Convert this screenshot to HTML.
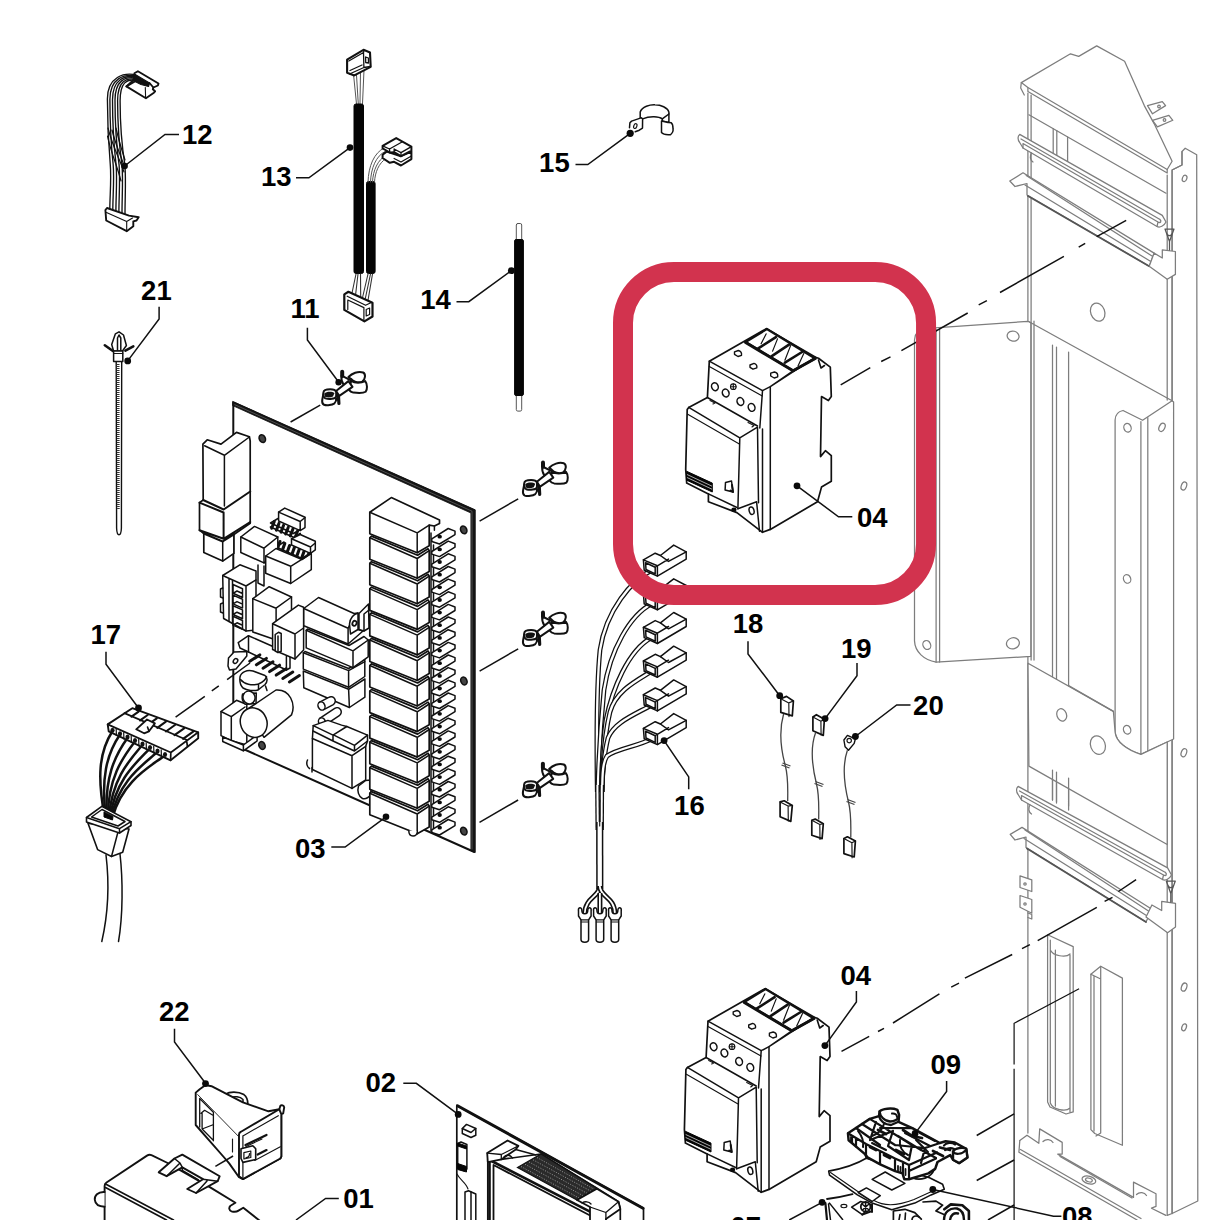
<!DOCTYPE html>
<html><head><meta charset="utf-8"><title>Parts diagram</title>
<style>
html,body{margin:0;padding:0;background:#fff;}
body{width:1220px;height:1220px;overflow:hidden;}
svg{display:block;}
.l{font-family:"Liberation Sans",sans-serif;font-weight:bold;font-size:27.5px;fill:#000;}
.s{fill:none;stroke:#111;stroke-width:1.5;stroke-linejoin:round;stroke-linecap:round;}
.t{fill:none;stroke:#151515;stroke-width:1.15;stroke-linejoin:round;stroke-linecap:round;}
.w{fill:#fff;stroke:#111;stroke-width:1.5;stroke-linejoin:round;stroke-linecap:round;}
.g{fill:none;stroke:#7d7d7d;stroke-width:1.25;stroke-linejoin:round;stroke-linecap:round;}
.gw{fill:#fff;stroke:#7d7d7d;stroke-width:1.25;stroke-linejoin:round;stroke-linecap:round;}
.ld{fill:none;stroke:#111;stroke-width:1.5;}
.d{fill:#0a0a0a;}
.k{fill:#050505;stroke:#050505;stroke-width:1;}
</style></head><body>
<svg width="1220" height="1220" viewBox="0 0 1220 1220">
<rect width="1220" height="1220" fill="#fff"/>
<!-- gray frame -->
<g id="frame" class="g">
<!-- top plate -->
<path class="gw" d="M1021.3,82.6 L1070.5,53.8 L1078.7,56.4 L1096.7,45.9 L1124.6,61.3 L1144.3,105.6 L1154.1,123.6 L1172.1,161.3 L1167.2,169.5 L1027.9,87.5 Z"/>
<path d="M1027.9,87.5 L1027.9,91.500 L1167.2,173 L1167.2,169.5 M1021.3,82.6 L1020.700,88 L1024.300,95 M1028.900,114.800 L1166,193.200"/>
<path class="gw" d="M1147.5,105.6 L1162.3,101.6 L1165.6,105.6 L1152.5,113.8 Z M1152.5,120.3 L1168.9,115.4 L1172.8,120.3 L1157.4,126.9 Z"/>
<circle cx="1159" cy="106.5" r="1.3"/><circle cx="1164.5" cy="120" r="1.3"/>
<!-- right channel -->
<path class="gw" d="M1182,151.5 L1185.2,148.2 L1196.7,154.8 L1197.800,1201 L1172.100,1213.500 L1172.100,170 L1182,165 Z"/>
<path d="M1182,151.5 L1182,165 L1172.1,170 M1167.2,175 L1167.2,400 M1172.1,170 L1172.1,1213.500 M1167.2,420 L1167.2,1215.400 L1172.100,1213.500"/>
<g>
<ellipse cx="1184.6" cy="178.4" rx="2.2" ry="3.3" transform="rotate(20 1184.6 178.4)"/>
<ellipse cx="1183.9" cy="486" rx="2.6" ry="4.2" transform="rotate(20 1183.9 486)"/>
<ellipse cx="1183.9" cy="752.7" rx="2.6" ry="4.2" transform="rotate(20 1183.9 752.7)"/>
<ellipse cx="1184.1" cy="987.1" rx="2.6" ry="4.2" transform="rotate(20 1184.1 987.1)"/>
<ellipse cx="1184.1" cy="1027.3" rx="2.2" ry="3.6" transform="rotate(20 1184.1 1027.3)"/>
</g>
<!-- main panel verticals -->
<path d="M1027.9,93 L1027.9,1133 M1031.1,95 L1031.1,660 M1053.2,128.500 L1053.2,154 M1056.8,130.500 L1056.8,156 M1067.6,137 L1067.6,162"/>
<path d="M1052.5,345 L1052.5,800 M1056.5,347 L1056.5,802 M1068.6,352 L1068.6,806"/>
<!-- upper rail 1 -->
<path class="gw" d="M1019.7,134.4 C1017.5,136 1017.5,140 1019.7,142.5 L1023,148 L1157,226.500 C1160,228 1164,226 1166,222 L1162.3,215.4 Z"/>
<path d="M1021,139 L1160,219.500 M1023,148 L1023,143.500 L1158,222 L1157,226.500 M1160,219.500 C1161.500,221 1161,223.500 1158,222"/>
<path d="M1031.5,153 C1029.5,156 1030,160 1033,162"/>
<!-- rail 2 -->
<path class="gw" d="M1009.8,181 L1023,172.8 L1154.1,253.1 L1149.2,266.2 L1027,195 L1027,183.5 L1015,186.5 Z"/>
<path d="M1026.2,175.5 L1152,256 M1025,185 L1150,261"/>
<path d="M1028,196 L1149.2,266.2" style="stroke:#555;stroke-width:1.8"/>
<path class="gw" d="M1162.3,249.8 L1175.4,251.5 L1175.4,274.4 L1167.2,279.3 L1149.2,266.2 L1154.1,253.1 L1162.3,258 Z"/>
<path d="M1165,229 L1174,229 L1169.5,241.5 Z M1166.5,233 C1168,236.5 1171,236.5 1172.5,233 M1169.5,241.5 L1169.5,250" style="stroke:#555"/>
<!-- upper plate hole -->
<ellipse cx="1097.7" cy="312.1" rx="7" ry="9.3" transform="rotate(-20 1097.7 312.1)"/>
<!-- left bracket plate -->
<path class="gw" d="M949.2,326.9 L1027.9,321.3 L1030.8,322.5 L1030.8,656.4 L936.1,662.2 C924,660 915,652 914.5,640.9 L914.5,340 C914.8,333 918,329 925,328.5 Z"/>
<path d="M936.1,329 L936.1,662.2 M939.6,328.5 L939.6,662"/>
<ellipse cx="1013.1" cy="336.1" rx="6" ry="5" transform="rotate(15 1013.1 336.1)"/>
<ellipse cx="1012.9" cy="643.3" rx="6.5" ry="5.5" transform="rotate(-15 1012.9 643.3)"/>
<ellipse cx="926.8" cy="645" rx="3.8" ry="4.6" transform="rotate(-25 926.8 645)"/>
<!-- fold line and right angle bracket -->
<path d="M1029.5,322 L1172.1,400.7 M1034,321 L1034,660"/>
<path class="gw" d="M1115.1,420 C1115.3,415.5 1118,411.5 1123,410.5 L1142.6,420.3 L1172.1,400.7 L1173.6,402 L1173.6,739 L1140.9,754.4 C1127,750 1116,742 1115.1,732.1 Z"/>
<path d="M1140.9,421.5 L1140.9,754.4 M1147.8,417.5 L1147.8,751"/>
<ellipse cx="1127.5" cy="427.7" rx="3.6" ry="4.4" transform="rotate(-20 1127.5 427.7)"/>
<ellipse cx="1162" cy="427.3" rx="2.8" ry="4.4" transform="rotate(25 1162 427.3)"/>
<ellipse cx="1127.1" cy="578.9" rx="3.6" ry="4.4" transform="rotate(-20 1127.1 578.9)"/>
<ellipse cx="1127.1" cy="729.7" rx="3.6" ry="4.4" transform="rotate(-20 1127.1 729.7)"/>
<!-- lower plate -->
<path class="gw" d="M1028,663.2 L1113.4,711.4 L1115.1,732.1 C1116,742 1127,750 1140.9,754.4 L1167.2,742 L1167.2,844.5 L1028.9,766.1 Z"/>
<path d="M1068.6,685.6 L1113.4,711.4"/>
<ellipse cx="1061.7" cy="714.9" rx="4.8" ry="6.3" transform="rotate(-20 1061.7 714.9)"/>
<ellipse cx="1097.9" cy="745.1" rx="7.3" ry="9.5" transform="rotate(-20 1097.9 745.1)"/>
<path d="M1052.5,770 L1052.5,800 M1056.5,772 L1056.5,803 M1068.6,778 L1068.6,810"/>
<!-- rail 3 -->
<path class="gw" d="M1018.1,786.4 C1016,788 1016,792 1018.1,794.5 L1021.500,800 L1162.500,879.500 C1165.500,881 1169.500,879 1171.500,875 L1167.6,867.9 Z"/>
<path d="M1019.500,791 L1165.500,872.500 M1021.500,800 L1021.500,795.500 L1163.500,875 L1162.500,879.500 M1165.500,872.500 C1167,874 1166.500,876.500 1163.500,875"/>
<path d="M1030,805 C1028,808 1028.5,812 1031.5,814"/>
<!-- rail 4 -->
<path class="gw" d="M1010.2,834.4 L1022,827.4 L1151.9,909.2 L1146,922 L1026,847.5 L1026,837 L1015,840 Z"/>
<path d="M1025,830 L1150,912 M1024,838.5 L1148,916.5"/>
<path d="M1027,848.5 L1146,922" style="stroke:#555;stroke-width:1.8"/>
<path class="gw" d="M1161.7,901.4 L1175.5,903.3 L1175.5,926.9 L1167.6,932.8 L1146,917.1 L1151.9,905 L1161.7,910.5 Z"/>
<path d="M1166.3,881 L1175.3,881 L1170.8,893.5 Z M1167.8,885 C1169.3,888.5 1172.3,888.5 1173.8,885 M1170.8,893.5 L1170.8,902" style="stroke:#555"/>
<!-- small tabs on left -->
<path class="gw" d="M1020,875.8 L1031.8,879.8 L1031.8,891.5 L1020,887.5 Z M1020,895.5 L1031.8,899.5 L1031.8,913.2 L1020,907.3 Z"/>
<circle cx="1025" cy="884" r="1.2"/><circle cx="1025" cy="904" r="1.2"/>
<path d="M1027.9,913 L1031.8,914.5 L1031.8,919 L1027.9,917.5"/>
<!-- slots -->
<path d="M1047.6,934.8 L1073.2,946.6 L1073.2,1111.9 L1066,1114 L1050,1107 L1047.6,1102 Z"/>
<path d="M1050.3,940 L1050.3,1103 M1055.4,950 L1055.4,1106 M1070,955 L1070,1112 M1050.3,950 C1053,956 1066,958 1070,954 M1050.3,1103 C1053,1110 1066,1112 1070,1108"/>
<path d="M1090.9,974.2 L1100.7,966.3 L1122.4,978.1 L1122.4,1145.3 L1094.8,1133.5 L1090.9,1129.6 Z"/>
<path d="M1090.9,974.2 L1100.7,979 L1100.7,1133 L1096,1136 M1100.7,966.3 L1100.7,979 M1094,976 L1094,1131"/>
<!-- bottom tray -->
<path d="M1019.8,1140.6 L1027,1135.2 L1038.8,1143.3 L1039.7,1128.9 L1062.2,1142.4 L1062.2,1154.1 L1057.7,1154.1 L1133.5,1197.4 L1133.5,1182.1 L1156,1193.8 L1156,1206.4 L1151.5,1208.2 L1165.9,1215.4"/>
<path d="M1043,1141.500 C1046,1138.500 1051,1139 1053,1142.500 M1136.500,1194.500 C1139.500,1191.500 1144.500,1192 1146.500,1195.500 M1060,1156.500 L1132,1198"/>
<path d="M1019.800,1140.600 L1018.9,1152.3 L1137.1,1220 M1020.500,1149.500 L1141,1218.500"/>
<ellipse cx="1088.9" cy="1180" rx="7" ry="3.8" transform="rotate(15 1088.9 1180)"/>
<ellipse cx="1088.9" cy="1180" rx="3.5" ry="1.8" transform="rotate(15 1088.9 1180)"/>
</g>

<!-- part 12 -->
<g id="p12">
<path class="s" style="stroke-width:1.35" d="M137.5,75.3 C124.0,71.7 107.4,77.0 107.4,99.0 C107.4,120 107.9,138 110.3,165 C111.5,180 109.8,196 109.8,210.0"/>
<path class="s" style="stroke-width:1.35" d="M137.5,76.3 C124.4,73.0 109.9,78.2 109.9,99.4 C109.9,120 110.4,138 113.2,165 C114.4,180 112.8,196 112.8,211.0"/>
<path class="s" style="stroke-width:1.35" d="M137.5,77.4 C124.8,74.3 112.5,79.4 112.5,99.8 C112.5,120 113.0,138 116.1,165 C117.3,180 115.9,196 115.9,212.0"/>
<path class="s" style="stroke-width:1.35" d="M137.5,78.4 C125.2,75.5 115.0,80.6 115.0,100.2 C115.0,120 115.5,138 119.1,165 C120.3,180 118.9,196 118.9,213.0"/>
<path class="s" style="stroke-width:1.35" d="M137.5,79.5 C125.6,76.8 117.6,81.8 117.6,100.6 C117.6,120 118.1,138 122.0,165 C123.2,180 122.0,196 122.0,214.0"/>
<path class="s" style="stroke-width:1.35" d="M137.5,80.5 C126.0,78.1 120.1,83.0 120.1,101.0 C120.1,120 120.6,138 124.9,165 C126.1,180 125.0,196 125.0,215.0"/>
<path class="s" style="stroke-width:1.2" d="M108,128 C112,145 120,160 124,172 M107.500,136 C110,150 117,165 121,181 M112,130 C116,146 121,156 124.500,167 M116,128 C119,142 122.500,152 125,160"/>
<path class="w" style="stroke-width:1.9" d="M134.4,73.2 L137.9,71.2 L158.5,83.5 L157.9,85.5 L153.4,87.5 L152.8,89.3 L155.1,91.3 L153.9,92.7 L145.9,98.2 L126.4,86.400 L137,80.300 Z"/>
<path class="s" style="stroke-width:1.100" d="M145.300,87.500 L145.600,97.500"/>
<path d="M134.400,74 L149.500,83 L148.500,86.500 L141,84.500 L133,80.500 Z" fill="#111" stroke="#111" stroke-width="1.200" stroke-linejoin="round"/>
<path class="s" style="stroke-width:1.900" d="M126.400,86.400 L133,80.500 M149.500,83 L153.400,87.500"/>
<path class="w" style="stroke-width:1.9" d="M105.4,210 L107,208 L129,215.6 L138.7,217.2 L136.5,220.5 L133.3,221.3 L133.3,226.2 L126.7,231.2 L106.2,220.5 Z"/>
<path class="s" style="stroke-width:1.100" d="M106.500,212.500 L126.700,221.500 L132.500,218 M126.700,221.500 L126.700,231.200"/>
<path class="ld" d="M124.6,166 L165,134.4 L179,134.4"/><circle class="d" cx="124.6" cy="166" r="3.3"/>
<text class="l" x="182.0" y="143.8">12</text>
</g>
<!-- part 13 -->
<g id="p13">
<path class="t" style="stroke:#555;stroke-width:1" d="M353.500,74 L356.5,104 M356.500,75 L358.3,104 M360.500,72 L360,104 M364,70 L362.500,104"/>
<path class="w" style="stroke-width:2.100" d="M347.1,59.7 L363.5,49.8 L370,52.5 L370.7,66.9 L354.3,75.4 L347.1,72.8 Z"/>
<path class="s" style="stroke-width:1.300" d="M348.800,61 L363.500,52.500 L363.900,67.500 L349.500,74 M363.500,52.500 L364,50.500 M363.900,67.500 L370.500,66.500 M365.600,57 L368.400,58 L368.500,63 L365.700,62.500 Z M350,70.500 L362,65"/>
<rect class="k" x="354" y="104" width="9.5" height="169.5" rx="2"/>
<rect class="k" x="366.5" y="181.5" width="8.6" height="92" rx="2"/>
<path class="t" style="stroke:#555;stroke-width:1" d="M368,182 C368.500,166 374,153 384,148 M370.500,182 C371,168 376,156 385,151.500 M372.500,182 C373,170 378,160 385,156 M374.500,182 C375,172 379,163 385.500,159"/>
<path class="w" style="stroke-width:2" d="M382.6,154.8 L386.6,151.6 L401,156.200 L411.4,151.500 L411.4,159.1 L401,165.5 L394.1,161.8 L389.8,162.8 L382.6,158 Z"/>
<path class="w" style="stroke-width:2" d="M382.6,145.8 L396.2,138.1 L411.4,146.6 L411.4,150.6 L401,156.2 L394.1,152.2 L389.8,152.500 L382.6,148.4 Z"/>
<path class="s" style="stroke-width:1.300" d="M382.600,145.800 L389.500,149 L402,142 M394.100,149 L401,152.600 L411.400,146.600 M401,152.600 L401,156.200 M389.500,149 L389.800,152.500 M394.100,149 L394.100,152.200 M394.100,158.500 L401,162 L411.400,156"/>
<path class="t" style="stroke:#333;stroke-width:1.100" d="M356,274 L351.800,294 M358,274 L355.500,295.500 M360.500,274 L360.700,298 M368,274 L362.200,299 M370.500,274 L365,300 M372.500,274 L367.800,301.500"/>
<path class="w" style="stroke-width:2.200" d="M344.3,294.4 L348.4,291.8 L372.5,302.7 L372.5,316.5 L364.4,321.4 L344.3,309.9 Z"/>
<path class="s" style="stroke-width:1.200" d="M347.200,296.200 L365.600,305.300 L371.300,302.500 M347.800,300 L363.900,307.600 L363.900,319.700 M347.800,300 L347.800,309.500 M366.200,309.500 L369.600,308 L369.600,314.500 L366.200,316 Z"/>
<path class="ld" d="M350,147.6 L308.9,177.8 L296,177.8"/><circle class="d" cx="350" cy="147.6" r="3.3"/>
<text class="l" x="261.0" y="186.0">13</text>
</g>

<defs>
<g id="stand">
<path class="w" style="stroke-width:2" d="M28.4,7 C32,3.5 38,0.8 43.1,2.5 C46,4 45.5,9 42.3,11.6 C38,13.5 33,11.5 30.8,8.7 Z"/>
<path class="w" style="stroke-width:2" d="M45.2,11.1 C47.5,14 47.5,19.5 45.6,21.8 C43,23.6 37,23 33.3,22.6 C31,22 29.8,21 29.2,20.2 L31,11 C35,13.3 41,13.2 45.2,11.1 Z"/>
<path class="w" style="stroke-width:2" d="M3.4,22.6 C3.6,20.5 7,19.3 10.3,19.3 C13,19.3 15.5,20 16.3,22 L16.1,26.5 C15.5,29 9,29.5 5.4,28.4 C3.8,27.5 3.2,25 3.4,22.6 Z"/>
<path class="s" style="stroke-width:2" d="M2.3,29.5 C1.8,32 2.3,34 4,34.8 C7,35.8 12,35 14.5,33.3 C16,32 16.3,30 16.1,28.5 M2.300,29.500 L3.400,24"/>
<path d="M4.500,23.500 C6,21.500 12,21.200 14.500,23 L13,26.500 C10,27.800 7,27.800 5,26.800 Z" fill="#111"/>
<path class="w" style="stroke-width:2" d="M16.1,21 L28.4,11.1 L32.5,16.9 L19.3,25.9 Z"/>
<path class="s" style="stroke-width:4" d="M22.2,1.8 L22.2,6"/>
<path class="s" style="stroke-width:2" d="M22.6,6.2 L30.8,10.3 M21.500,6 C21,9 22,12 23.500,14.500"/>
<path class="s" style="stroke-width:3.200" d="M18.5,26.7 L18.9,33.500"/>
<path class="s" style="stroke-width:1.800" d="M16.300,22 C17.500,24 17.800,27 17,30"/>
</g>
</defs>
<!-- part 14 -->
<g id="p14">
<rect class="w" style="stroke:#555;stroke-width:1" x="516.3" y="223.5" width="5.4" height="187.6" rx="1.5"/>
<rect class="k" x="514.6" y="239.5" width="8.8" height="156" rx="1.5"/>
<path class="ld" d="M511.3,270.7 L468.8,301.7 L456.5,301.7"/><circle class="d" cx="511.3" cy="270.7" r="3.4"/>
<text class="l" x="420.3" y="309.1">14</text>
</g>
<!-- part 15 -->
<g id="p15">
<path class="w" d="M640.2,117.5 L640.2,112.1 C642,106.5 650,104.6 654.9,104.8 C661,104.8 667.5,107.5 668.9,112.1 L668.9,122.6 L662.3,121 L662.3,118.9 C659,116.4 650,115.6 642.6,118.9 Z"/>
<path class="s" d="M668.9,114 L662.3,118.9"/>
<path class="w" d="M661.5,121.1 L661.5,132.6 C663,134.4 667,135 670.5,134.7 C672.5,133 673.3,130 673,128.5 C673,126 672.3,123.6 671.3,122.8 C670,122.3 668,122.4 668,122.4 Z"/>
<path class="w" d="M629.5,127.7 L629.9,122.8 L631.6,121.1 L641,117.9 L642.6,118.7 L642.5,128.1 L639.3,130.2 L635.2,131.8"/>
<ellipse class="t" cx="635.3" cy="126.1" rx="1.5" ry="2.5" transform="rotate(22 635.3 126.1)"/>
<path class="ld" d="M630.2,133.3 L587.8,164.6 L575.5,164.6"/><circle class="d" cx="630.2" cy="133.3" r="3.6"/>
<text class="l" x="539.1" y="172.0">15</text>
</g>
<!-- part 21 -->
<g id="p21">
<path class="w" style="stroke-width:1.4" d="M116.2,361.4 L116.6,528 C116.8,533 117.8,534.8 119,534.8 C120.2,534.8 121.2,533 121.4,528 L121.7,361.4 Z"/>
<path style="fill:none;stroke-dasharray:0.9 1.1;stroke-width:2.6;stroke:#333" d="M118.2,364 L118.4,510"/>
<path class="w" d="M111.7,344.5 L115.4,333.8 L119,331.8 L123.5,335 L126.4,345.5 L122.5,351 L113.6,351 Z"/>
<path class="s" d="M117.5,350 L117.5,338 L119,335 L120.8,338 L120.8,350"/>
<path class="s" style="stroke-width:2.6" d="M104.8,345.3 L112.9,351 M133.3,346.3 L125.4,350.6"/>
<rect class="w" x="113.6" y="351" width="9.2" height="10.6"/>
<path class="t" d="M113.6,353.5 L122.8,353.5"/>
<path class="ld" d="M159.1,306.7 L159.1,319 L127.7,360.9"/><circle class="d" cx="127.7" cy="360.9" r="3.4"/>
<text class="l" x="141.1" y="300.0">21</text>
</g>
<!-- part 11 -->
<g id="p11">
<use href="#stand" x="320" y="370"/>
<path class="ld" d="M307.4,327.8 L307.4,340 L338.6,382"/><circle class="d" cx="338.6" cy="382.2" r="3.2"/>
<path class="ld" d="M320.2,405.2 L290.6,422"/>
<text class="l" x="290.6" y="317.5">11</text>
</g>

<!-- part 03 board -->
<g id="p03">
<path class="w" style="stroke-width:2" d="M233.3,402.5 L474.3,510.3 L474.3,852 L233.3,744.5 Z"/>
<path d="M232.6,401.4 L475.2,509.8 L475.2,852.5 L470.9,850.6 L470.9,513 L232.6,405.6 Z" fill="#151515" stroke="#111" stroke-width="0.8"/>
<path d="M234.5,404.6 L472,511.2 L472,849.5" fill="none" stroke="#888" stroke-width="0.5"/>
<ellipse cx="262.3" cy="438.6" rx="3" ry="4" fill="#444" stroke="#111" stroke-width="1.6" transform="rotate(-25 262.3 438.6)"/>
<ellipse cx="463.7" cy="529.9" rx="3" ry="4" fill="#444" stroke="#111" stroke-width="1.6" transform="rotate(-25 463.7 529.9)"/>
<ellipse cx="463.9" cy="681" rx="3" ry="4" fill="#444" stroke="#111" stroke-width="1.6" transform="rotate(-25 463.9 681)"/>
<ellipse cx="463.8" cy="831.1" rx="3" ry="4" fill="#444" stroke="#111" stroke-width="1.6" transform="rotate(-25 463.8 831.1)"/>
<ellipse cx="262" cy="745.5" rx="3" ry="4" fill="#444" stroke="#111" stroke-width="1.6" transform="rotate(-25 262 745.5)"/>
<path class="w" style="stroke-width:1.7" d="M202.9,444.1 L207.2,439.8 L221,444.1 L236.5,432.4 L249.4,436.7 L250.2,441 L250.2,523.3 L233.9,534.5 L233.9,553.4 L222.7,561.1 L203.8,552.5 L203.8,533.6 L199.5,530.2 L199.5,502.6 L203.2,500 Z"/>
<path class="s" d="M204.6,445.8 L224.4,455.3 L249.4,437 M224.4,455.3 L224.4,506"/>
<path class="s" style="stroke-width:2" d="M203.2,500 L223.6,509.5 L250.2,491.5 M199.5,502.6 L223.6,512.5 L223.6,538.8 M199.5,530.2 L223.6,538.8 L250.2,522 M203.8,533.6 L222.7,541.5 L233.9,534.5"/>
<path class="s" d="M222.7,541.5 L222.7,561.1"/>
<path class="w" d="M278.6,512.1 L284.7,508.1 L305,517.2 L305,527.6 L300.2,530.6 L278.6,521 Z"/>
<path class="s" d="M278.6,512.1 L300.2,521.5 L305,517.5 M300.2,521.5 L300.2,530.6"/>
<path class="s" d="M270.5,523 L293.5,533.5 L300.2,529.5 M270.5,523 L278,518.5"/>
<path d="M274.3,521.5 L271.7,528.3" stroke="#111" stroke-width="3" fill="none" stroke-linecap="round"/>
<path d="M279.0,523.4 L276.4,530.2" stroke="#111" stroke-width="3" fill="none" stroke-linecap="round"/>
<path d="M283.6,525.3 L281.0,532.1" stroke="#111" stroke-width="3" fill="none" stroke-linecap="round"/>
<path d="M288.3,527.2 L285.7,534.0" stroke="#111" stroke-width="3" fill="none" stroke-linecap="round"/>
<path d="M292.9,529.1 L290.3,535.9" stroke="#111" stroke-width="3" fill="none" stroke-linecap="round"/>
<path d="M297.6,531.0 L295.0,537.8" stroke="#111" stroke-width="3" fill="none" stroke-linecap="round"/>
<path class="s" style="stroke-width:1.8" d="M270.5,527 L294,537.5 L300.2,533.5"/>
<path class="w" d="M291.5,538.8 L300.2,534.5 L315.3,541.3 L315.3,549.9 L310.5,553.4 L291.5,545 Z"/>
<path class="s" d="M291.5,538.8 L310.5,547 L315.3,543 M310.5,547 L310.5,553.4"/>
<path class="s" d="M276,547 L302,558.5 L310.5,553 M276,547 L284,542"/>
<path d="M280.0,541.5 L277.2,549.3" stroke="#111" stroke-width="3.1" fill="none" stroke-linecap="round"/>
<path d="M284.8,543.5 L282.0,551.3" stroke="#111" stroke-width="3.1" fill="none" stroke-linecap="round"/>
<path d="M289.6,545.5 L286.8,553.3" stroke="#111" stroke-width="3.1" fill="none" stroke-linecap="round"/>
<path d="M294.4,547.5 L291.6,555.3" stroke="#111" stroke-width="3.1" fill="none" stroke-linecap="round"/>
<path d="M299.2,549.5 L296.4,557.3" stroke="#111" stroke-width="3.1" fill="none" stroke-linecap="round"/>
<path d="M304.0,551.5 L301.2,559.3" stroke="#111" stroke-width="3.1" fill="none" stroke-linecap="round"/>
<path d="M308.8,553.5 L306.0,561.3" stroke="#111" stroke-width="3.1" fill="none" stroke-linecap="round"/>
<path class="s" style="stroke-width:1.8" d="M276,551 L302,562.5"/>
<path class="w" d="M240.8,537 L254.5,526.4 L277.8,537 L277.8,552 L264,562.9 L240.8,552.5 Z"/>
<path class="s" d="M240.8,537 L264,548.2 L277.8,537 M264,548.2 L264,562.9"/>
<path class="w" d="M258,565 L258,583 L264,586 L264,566"/>
<path class="w" d="M265.7,556 L276,548.5 L302,559.5 L311.3,553.4 L311.3,569.7 L290.7,583.5 L265.7,573.2 Z"/>
<path class="s" d="M265.7,556 L290.7,566.3 L311.3,553.4 M290.7,566.3 L290.7,583.5"/>
<path class="w" d="M222.7,575.5 L239.9,564.8 L256,571 L256,630 L246,631 L223.6,618.5 Z"/>
<path class="s" d="M222.7,575.5 L246,586 L256,580 M246,586 L246,631 M229,578.5 L229,621.5 M232.5,580 L232.5,623.5"/>
<path class="s" d="M233,584.5 L242.5,588.7 L242.5,597.5 L233,593.3 Z M233,593.3 L237,591.0 L242.5,593.5"/>
<path class="s" d="M233,595.1 L242.5,599.3000000000001 L242.5,608.1 L233,603.9 Z M233,603.9 L237,601.6 L242.5,604.1"/>
<path class="s" d="M233,605.7 L242.5,609.9000000000001 L242.5,618.7 L233,614.5 Z M233,614.5 L237,612.2 L242.5,614.7"/>
<path class="s" d="M233,616.3 L242.5,620.5 L242.5,629.3 L233,625.0999999999999 Z M233,625.0999999999999 L237,622.8 L242.5,625.3"/>
<path class="s" d="M222.7,588 L220.5,589 L220.5,597 L223,598 M222.7,603 L220.5,604 L220.5,612 L223,613"/>
<path class="w" d="M252.8,598.7 L269.2,586.7 L291.5,597 L291.5,625 L276.1,640 L252.8,632 Z"/>
<path class="s" d="M252.8,598.7 L276.1,608.2 L291.5,597 M276.1,608.2 L276.1,625"/>
<path class="w" d="M238.2,642.6 L248.5,635.7 L290,654 L290,668 L286.4,670 L248.5,652 L240,648 Z"/>
<path class="s" d="M248.5,635.7 L248.5,652 M286.4,656.4 L286.4,670"/>
<path class="w" d="M272.6,623.7 L298.4,605.1 L303.6,607.3 L303.6,650 L295,659 L272.6,649.5 Z"/>
<path class="s" d="M272.6,623.7 L295,634 L303.6,628 M295,634 L295,659"/>
<path class="w" d="M275.2,634.5 L278.5,632.3 L281.2,633.5 L281.2,651.2 L278,652.5 L275.2,651 Z"/>
<path class="s" d="M278,636 L278,652.5"/>
<path class="w" d="M228.5,658 L234,652 L246.8,651.5 L246.8,656 L236,669 L229.5,670 L228,666 Z"/>
<ellipse class="s" cx="235.5" cy="661" rx="2" ry="2.6" transform="rotate(35 235.5 661)"/>
<path class="s" style="stroke-width:3" d="M249.8,661.3 L259.8,654.9"/>
<path class="s" style="stroke-width:3" d="M256.4,664.8 L266.4,658.4"/>
<path class="s" style="stroke-width:3" d="M263.0,668.2 L273.0,661.8"/>
<path class="s" style="stroke-width:3" d="M269.6,671.6 L279.6,665.2"/>
<path class="s" style="stroke-width:3" d="M276.2,675.1 L286.2,668.7"/>
<path class="s" style="stroke-width:3" d="M282.8,678.5 L292.8,672.1"/>
<path class="s" style="stroke-width:3" d="M289.4,682.0 L299.4,675.6"/>
<path class="w" d="M303.3,671 L348.6,689.3 L364.9,679 L364.9,697.2 L349.4,707.5 L303.8,687.7 Z"/>
<path class="s" d="M348.6,689.3 L349.4,707.5"/>
<path class="w" d="M303.3,652.8 L305,651.5 L348.6,668.5 L364.8,659 L364.8,676.5 L348.6,687.3 L303.3,669.1 Z"/>
<path class="s" d="M303.3,652.8 L348.6,670.6 L364.8,661.7 M348.6,670.6 L348.6,687.3"/>
<path class="w" d="M306.2,630.2 L307.5,629 L349,645.5 L364,636.5 L368.2,640 L368.2,656.8 L353,667.6 L306.2,647.9 Z"/>
<path class="s" d="M306.2,630.2 L353,650.9 L368.2,640 M353,650.9 L353,667.6"/>
<path class="w" d="M303.8,608.5 L318.5,597.5 L354,613.5 L358,613 L358,629.5 L363,631 L348.1,644 L303.8,625.8 Z"/>
<path class="s" d="M303.8,608.5 L348.1,628.2 L351,622 M348.1,628.2 L348.1,644"/>
<path class="w" d="M349.5,624 C350,618 353,614.5 358,613 L358,629.5 L350.5,634 Z"/>
<ellipse class="s" style="stroke-width:1.8" cx="354.5" cy="623.3" rx="2" ry="2.6" transform="rotate(25 354.5 623.3)"/>
<path class="w" d="M359,613.5 L368.5,604 L369,628 L364,631 L359,629.5 Z"/>
<path class="s" d="M364,614 L364,631 M364,614 L369,610"/>
<path class="w" d="M246.8,709.7 L276,690 C290,689 296,704 291.5,714.9 L264,737.3 Z"/>
<path class="w" d="M221,711.5 L236.5,700.3 L246.8,704.5 L246.8,745 L231.3,740.7 L221,735.6 Z"/>
<path class="s" d="M221,711.5 L231.3,716.6 L245,707 M231.3,716.6 L231.3,740.7"/>
<path class="w" d="M222.7,737 L222.7,741.5 L243.4,750.8 L257.1,741 L257.1,735 L243.4,745 Z"/>
<path class="s" d="M243.4,745 L243.4,750.8"/>
<ellipse class="w" cx="253.7" cy="722.6" rx="13.2" ry="15" transform="rotate(-22 253.7 722.6)"/>
<path class="w" d="M242.6,694 C241.5,698 242.5,702.5 245.5,704.3 L256,703.5 L256.3,693 Z"/>
<ellipse class="w" cx="249" cy="697.5" rx="6" ry="6.5" transform="rotate(-20 249 697.5)"/>
<path class="w" d="M240,677 C241,672 247,669.5 253,671 L265,675.5 C268,678 267.5,682 265,684.5 L258,690 C254,691.2 247,690.5 243,688 C240.5,685.5 239.5,681 240,677 Z"/>
<path class="s" d="M240.5,679.5 C244,684 252,686 258.5,684 C263,682 266,679 266.5,676.5 M258.5,684 L258.5,689.5"/>
<path class="s" d="M265.5,686 L267,690.5"/>
<path class="w" d="M319.2,702.4 L328.7,697.4 A4.2,4.2 0 0 1 333.3,704.6 L323.8,709.6 Z"/>
<ellipse class="w" cx="321.5" cy="706" rx="3.4" ry="4.2" transform="rotate(-25 321.5 706)"/>
<path class="w" d="M319.7,718.4 L334.7,708.4 A4.2,4.2 0 0 1 339.3,715.6 L324.3,725.6 Z"/>
<ellipse class="w" cx="322" cy="722" rx="3.4" ry="4.2" transform="rotate(-25 322 722)"/>
<path class="w" d="M312.4,738.5 L313.2,725.6 L327.9,720.4 L341.6,725.1 L346.8,726.5 L367.5,735.1 L367.5,741 L365.7,746.3 L365.7,779.8 L352,788.4 L312.4,769.5 Z"/>
<path class="s" d="M313.2,725.6 L333,735.1 L346.8,726.5 M333.9,735.1 L354.5,745.4 L367.5,735.1 M354.5,745.4 L354.5,751 M333,735.1 L333,741 M312.4,738.5 L352,755.7 L365.7,746.3 M352,755.7 L352,788.4 M313,731 L333,741 L354.5,751 L367.5,741"/>
<path class="w" d="M358.5,786 C357,791 358.5,796.5 362.5,798.5 C366,799.5 369.5,797 370.9,794 L370.9,780 L365.7,780.5 Z"/>
<path class="s" d="M307.5,760 C306,763 307,767 309.5,768.5 M312,767.5 L312,772"/>
<path class="w" style="stroke-width:1.7" d="M369.8,793.2 L371.5,791.6 L417.6,810.8 L428,804.2 L429.2,806.1 L429.2,826.9 L417.2,833.8 L369.8,814.8 Z"/>
<path class="s" d="M369.8,793.2 L417.2,814.0 L429.2,806.1 M417.2,814.0 L417.2,833.8"/>
<path class="w" style="stroke-width:1.7" d="M369.8,767.7 L371.5,766.1 L417.6,785.2 L428,778.7 L429.2,780.6 L429.2,801.3 L417.2,808.2 L369.8,789.2 Z"/>
<path class="s" d="M369.8,767.7 L417.2,788.4 L429.2,780.6 M417.2,788.4 L417.2,808.2"/>
<path class="w" style="stroke-width:1.7" d="M369.8,742.2 L371.5,740.6 L417.6,759.7 L428,753.2 L429.2,755.1 L429.2,775.8 L417.2,782.7 L369.8,763.7 Z"/>
<path class="s" d="M369.8,742.2 L417.2,762.9 L429.2,755.1 M417.2,762.9 L417.2,782.7"/>
<path class="w" style="stroke-width:1.7" d="M369.8,716.6 L371.5,715.0 L417.6,734.1 L428,727.6 L429.2,729.5 L429.2,750.2 L417.2,757.1 L369.8,738.1 Z"/>
<path class="s" d="M369.8,716.6 L417.2,737.3 L429.2,729.5 M417.2,737.3 L417.2,757.1"/>
<path class="w" style="stroke-width:1.7" d="M369.8,691.1 L371.5,689.5 L417.6,708.6 L428,702.1 L429.2,704.0 L429.2,724.7 L417.2,731.6 L369.8,712.6 Z"/>
<path class="s" d="M369.8,691.1 L417.2,711.8 L429.2,704.0 M417.2,711.8 L417.2,731.6"/>
<path class="w" style="stroke-width:1.7" d="M369.8,665.5 L371.5,663.9 L417.6,683.0 L428,676.5 L429.2,678.4 L429.2,699.1 L417.2,706.0 L369.8,687.0 Z"/>
<path class="s" d="M369.8,665.5 L417.2,686.2 L429.2,678.4 M417.2,686.2 L417.2,706.0"/>
<path class="w" style="stroke-width:1.7" d="M369.8,640.0 L371.5,638.4 L417.6,657.5 L428,651.0 L429.2,652.9 L429.2,673.6 L417.2,680.5 L369.8,661.5 Z"/>
<path class="s" d="M369.8,640.0 L417.2,660.7 L429.2,652.9 M417.2,660.7 L417.2,680.5"/>
<path class="w" style="stroke-width:1.7" d="M369.8,614.4 L371.5,612.8 L417.6,631.9 L428,625.4 L429.2,627.3 L429.2,648.0 L417.2,654.9 L369.8,635.9 Z"/>
<path class="s" d="M369.8,614.4 L417.2,635.1 L429.2,627.3 M417.2,635.1 L417.2,654.9"/>
<path class="w" style="stroke-width:1.7" d="M369.8,588.9 L371.5,587.2 L417.6,606.4 L428,599.9 L429.2,601.8 L429.2,622.5 L417.2,629.4 L369.8,610.4 Z"/>
<path class="s" d="M369.8,588.9 L417.2,609.6 L429.2,601.8 M417.2,609.6 L417.2,629.4"/>
<path class="w" style="stroke-width:1.7" d="M369.8,563.3 L371.5,561.7 L417.6,580.8 L428,574.3 L429.2,576.2 L429.2,596.9 L417.2,603.8 L369.8,584.8 Z"/>
<path class="s" d="M369.8,563.3 L417.2,584.0 L429.2,576.2 M417.2,584.0 L417.2,603.8"/>
<path class="w" style="stroke-width:1.7" d="M369.8,537.8 L371.5,536.1 L417.6,555.2 L428,548.8 L429.2,550.6 L429.2,571.4 L417.2,578.2 L369.8,559.2 Z"/>
<path class="s" d="M369.8,537.8 L417.2,558.5 L429.2,550.6 M417.2,558.5 L417.2,578.2"/>
<path class="w" style="stroke-width:1.7" d="M369.8,512.2 L391.3,497.6 L439.5,519.9 L439.5,523.4 L434.4,526.0 L429.2,525.1 L429.2,545.8 L417.2,552.7 L369.8,533.7 Z"/>
<path class="s" d="M369.8,512.2 L417.2,532.9 L429.2,525.1 M417.2,532.9 L417.2,552.7 M434.4,526.0 L434.4,530.2"/>
<path class="w" d="M408.8,830.5 C408.8,834 410.5,836 413,836 C415.5,836 417.4,834 417.4,831"/>
<path class="s" d="M431,533 L431,831 M433.5,545 L433.5,833"/>
<path class="w" d="M431.8,829.9 L448.2,819.5 L455,822.1 L455,825.6 L439.5,835.0 L431.8,832.5 Z"/>
<ellipse class="d" cx="439.7" cy="827.7" rx="2.2" ry="1.9"/>
<path class="w" d="M431.8,817.2 L448.2,806.8 L455,809.4 L455,812.9 L439.5,822.3 L431.8,819.8 Z"/>
<ellipse class="d" cx="439.7" cy="815.0" rx="2.2" ry="1.9"/>
<path class="w" d="M431.8,804.6 L448.2,794.2 L455,796.8 L455,800.3 L439.5,809.7 L431.8,807.2 Z"/>
<ellipse class="d" cx="439.7" cy="802.4" rx="2.2" ry="1.9"/>
<path class="w" d="M431.8,791.9 L448.2,781.5 L455,784.1 L455,787.6 L439.5,797.0 L431.8,794.5 Z"/>
<ellipse class="d" cx="439.7" cy="789.7" rx="2.2" ry="1.9"/>
<path class="w" d="M431.8,779.2 L448.2,768.9 L455,771.5 L455,775.0 L439.5,784.4 L431.8,781.9 Z"/>
<ellipse class="d" cx="439.7" cy="777.1" rx="2.2" ry="1.9"/>
<path class="w" d="M431.8,766.6 L448.2,756.2 L455,758.8 L455,762.3 L439.5,771.7 L431.8,769.2 Z"/>
<ellipse class="d" cx="439.7" cy="764.4" rx="2.2" ry="1.9"/>
<path class="w" d="M431.8,753.9 L448.2,743.5 L455,746.1 L455,749.6 L439.5,759.0 L431.8,756.5 Z"/>
<ellipse class="d" cx="439.7" cy="751.8" rx="2.2" ry="1.9"/>
<path class="w" d="M431.8,741.3 L448.2,730.9 L455,733.5 L455,737.0 L439.5,746.4 L431.8,743.9 Z"/>
<ellipse class="d" cx="439.7" cy="739.1" rx="2.2" ry="1.9"/>
<path class="w" d="M431.8,728.6 L448.2,718.2 L455,720.9 L455,724.4 L439.5,733.8 L431.8,731.2 Z"/>
<ellipse class="d" cx="439.7" cy="726.5" rx="2.2" ry="1.9"/>
<path class="w" d="M431.8,716.0 L448.2,705.6 L455,708.2 L455,711.7 L439.5,721.1 L431.8,718.6 Z"/>
<ellipse class="d" cx="439.7" cy="713.8" rx="2.2" ry="1.9"/>
<path class="w" d="M431.8,703.4 L448.2,693.0 L455,695.6 L455,699.1 L439.5,708.5 L431.8,706.0 Z"/>
<ellipse class="d" cx="439.7" cy="701.2" rx="2.2" ry="1.9"/>
<path class="w" d="M431.8,690.7 L448.2,680.3 L455,682.9 L455,686.4 L439.5,695.8 L431.8,693.3 Z"/>
<ellipse class="d" cx="439.7" cy="688.5" rx="2.2" ry="1.9"/>
<path class="w" d="M431.8,678.0 L448.2,667.6 L455,670.2 L455,673.8 L439.5,683.1 L431.8,680.6 Z"/>
<ellipse class="d" cx="439.7" cy="675.9" rx="2.2" ry="1.9"/>
<path class="w" d="M431.8,665.4 L448.2,655.0 L455,657.6 L455,661.1 L439.5,670.5 L431.8,668.0 Z"/>
<ellipse class="d" cx="439.7" cy="663.2" rx="2.2" ry="1.9"/>
<path class="w" d="M431.8,652.8 L448.2,642.4 L455,645.0 L455,648.5 L439.5,657.9 L431.8,655.4 Z"/>
<ellipse class="d" cx="439.7" cy="650.6" rx="2.2" ry="1.9"/>
<path class="w" d="M431.8,640.1 L448.2,629.7 L455,632.3 L455,635.8 L439.5,645.2 L431.8,642.7 Z"/>
<ellipse class="d" cx="439.7" cy="637.9" rx="2.2" ry="1.9"/>
<path class="w" d="M431.8,627.4 L448.2,617.0 L455,619.6 L455,623.1 L439.5,632.5 L431.8,630.0 Z"/>
<ellipse class="d" cx="439.7" cy="625.2" rx="2.2" ry="1.9"/>
<path class="w" d="M431.8,614.8 L448.2,604.4 L455,607.0 L455,610.5 L439.5,619.9 L431.8,617.4 Z"/>
<ellipse class="d" cx="439.7" cy="612.6" rx="2.2" ry="1.9"/>
<path class="w" d="M431.8,602.1 L448.2,591.8 L455,594.4 L455,597.9 L439.5,607.2 L431.8,604.8 Z"/>
<ellipse class="d" cx="439.7" cy="600.0" rx="2.2" ry="1.9"/>
<path class="w" d="M431.8,589.5 L448.2,579.1 L455,581.7 L455,585.2 L439.5,594.6 L431.8,592.1 Z"/>
<ellipse class="d" cx="439.7" cy="587.3" rx="2.2" ry="1.9"/>
<path class="w" d="M431.8,576.9 L448.2,566.5 L455,569.1 L455,572.6 L439.5,582.0 L431.8,579.5 Z"/>
<ellipse class="d" cx="439.7" cy="574.7" rx="2.2" ry="1.9"/>
<path class="w" d="M431.8,564.2 L448.2,553.8 L455,556.4 L455,559.9 L439.5,569.3 L431.8,566.8 Z"/>
<ellipse class="d" cx="439.7" cy="562.0" rx="2.2" ry="1.9"/>
<path class="w" d="M431.8,551.5 L448.2,541.1 L455,543.8 L455,547.2 L439.5,556.6 L431.8,554.1 Z"/>
<ellipse class="d" cx="439.7" cy="549.4" rx="2.2" ry="1.9"/>
<path class="w" d="M431.8,538.9 L448.2,528.5 L455,531.1 L455,534.6 L439.5,544.0 L431.8,541.5 Z"/>
<ellipse class="d" cx="439.7" cy="536.7" rx="2.2" ry="1.9"/>
<path class="ld" d="M386,816.8 L345.1,847 L331.3,847"/><circle class="d" cx="386" cy="816.8" r="3.3"/>
<text class="l" x="294.9" y="857.5">03</text>
</g>
<use href="#stand" x="520.8" y="460.8"/>
<path class="ld" d="M518.2,498.8 L479.6,521.2"/>
<use href="#stand" x="520.8" y="610.8"/>
<path class="ld" d="M518.2,648.8 L479.6,671.2"/>
<use href="#stand" x="520.7" y="762"/>
<path class="ld" d="M518.1,800.0 L479.5,822.4"/>

<!-- part 17 -->
<g id="p17">
<path class="w" d="M106,855 C109,880 109,910 101.8,941.5 L118.5,941.5 C123,915 123,880 119.9,853 Z" style="stroke:none"/>
<path class="s" d="M106,855 C109,880 109,910 101.8,941.5 M119.9,853 C123,880 123,915 118.5,941.5"/>
<path class="s" style="stroke-width:2.500" d="M112.5,731.0 C98.5,753.0 97.5,778.0 104.5,816.0"/>
<path class="s" style="stroke-width:2.500" d="M120.0,734.5 C106.3,754.7 101.1,778.2 105.6,816.2"/>
<path class="s" style="stroke-width:2.500" d="M127.5,737.9 C114.1,756.5 104.6,778.4 106.8,816.4"/>
<path class="s" style="stroke-width:2.500" d="M135.0,741.4 C121.9,758.2 108.2,778.6 107.9,816.6"/>
<path class="s" style="stroke-width:2.500" d="M142.5,744.8 C129.6,760.0 111.8,778.9 109.1,816.9"/>
<path class="s" style="stroke-width:2.500" d="M150.0,748.3 C137.4,761.7 115.4,779.1 110.2,817.1"/>
<path class="s" style="stroke-width:2.500" d="M157.5,751.7 C145.2,763.5 118.9,779.3 111.4,817.3"/>
<path class="s" style="stroke-width:2.500" d="M165.0,755.2 C153.0,765.2 122.5,779.5 112.5,817.5"/>
<path class="w" style="stroke-width:1.9" d="M107.7,724.4 L132.3,708.2 L198.2,732.3 L198.2,738.2 L170.6,760.3 L108.7,731.3 Z"/>
<path class="s" style="stroke-width:1.700" d="M107.7,724.4 L170.800,752.500 L198.2,732.3 M170.800,752.500 L170.6,760.3 M124.4,713.1 L186.4,739.7 L187.500,746.500"/>
<path class="s" style="stroke-width:2.100" d="M131.5,716.7 L138.6,711.7"/>
<path class="s" style="stroke-width:2.100" d="M140.1,720.4 L147.7,715.0"/>
<path class="s" style="stroke-width:2.100" d="M148.7,724.1 L156.8,718.3"/>
<path class="s" style="stroke-width:2.100" d="M157.3,727.8 L165.9,721.6"/>
<path class="s" style="stroke-width:2.100" d="M165.9,731.5 L175.0,725.0"/>
<path class="s" style="stroke-width:2.100" d="M174.5,735.2 L184.1,728.3"/>
<path class="s" style="stroke-width:2.100" d="M183.1,738.9 L193.2,731.6"/>
<path class="w" style="stroke-width:1.800" d="M136.2,729.3 L147,719.5 L154.9,723.4 L149,731.3 L144.1,733.3 Z"/>
<path class="s" style="stroke-width:1.600" d="M147.500,727 L149,731.300"/>
<ellipse cx="112.5" cy="730.2" rx="2.100" ry="2.500" fill="#111"/>
<ellipse cx="120.0" cy="733.7" rx="2.100" ry="2.500" fill="#111"/>
<path class="s" style="stroke-width:1.200" d="M116.2,729.1 L116.4,735.5"/>
<ellipse cx="127.5" cy="737.1" rx="2.100" ry="2.500" fill="#111"/>
<path class="s" style="stroke-width:1.200" d="M123.7,732.5 L123.9,738.9"/>
<ellipse cx="135.0" cy="740.6" rx="2.100" ry="2.500" fill="#111"/>
<path class="s" style="stroke-width:1.200" d="M131.2,736.0 L131.4,742.4"/>
<ellipse cx="142.5" cy="744.0" rx="2.100" ry="2.500" fill="#111"/>
<path class="s" style="stroke-width:1.200" d="M138.7,739.4 L138.9,745.8"/>
<ellipse cx="150.0" cy="747.5" rx="2.100" ry="2.500" fill="#111"/>
<path class="s" style="stroke-width:1.200" d="M146.2,742.9 L146.4,749.3"/>
<ellipse cx="157.5" cy="750.9" rx="2.100" ry="2.500" fill="#111"/>
<path class="s" style="stroke-width:1.200" d="M153.7,746.3 L153.9,752.7"/>
<ellipse cx="165.0" cy="754.4" rx="2.100" ry="2.500" fill="#111"/>
<path class="s" style="stroke-width:1.200" d="M161.2,749.8 L161.4,756.2"/>
<path class="w" style="stroke-width:1.6" d="M87.9,823.1 L97.6,849.6 L111.5,856.5 L122.7,852.3 L129,829 Z"/>
<path class="s" d="M111.5,856.5 L118.5,830"/>
<path class="w" style="stroke-width:1.6" d="M86.5,817.5 L101.8,806.4 L131,821.7 L131,825.5 L119.5,833 L86.5,822 Z"/>
<path class="s" d="M86.5,817.5 L119.5,828.7 L131,821.7 M119.5,828.7 L119.5,833 M91.5,817 L102,809.5 L125,821.5 L118,826 Z"/>
<path class="k" d="M104,812 L113,816.5 L112.5,820 L104,817 Z"/>
<path class="ld" d="M106,651.8 L106,664.3 L138.5,708"/><circle class="d" cx="138.5" cy="708" r="3.4"/>
<text class="l" x="90.5" y="643.5">17</text>
<path class="ld" d="M175.6,717.2 L204.8,696.4 M211.8,690.8 L218.8,685.8 M227.1,679.6 L250,663"/>
</g>
<!-- part 16 -->
<g id="p16">
<path d="M652,570 C632,580 606,610 600,650 C596,690 596.5,740 597.3,792" fill="none" stroke="#111" stroke-width="4.8" stroke-linecap="butt"/>
<path d="M652,570 C632,580 606,610 600,650 C596,690 596.5,740 597.3,792" fill="none" stroke="#fff" stroke-width="2.3" stroke-linecap="butt"/>
<path d="M652,603.7 C630,615 610,650 604,690 C600,730 598.5,760 597.8,792" fill="none" stroke="#111" stroke-width="4.8" stroke-linecap="butt"/>
<path d="M652,603.7 C630,615 610,650 604,690 C600,730 598.5,760 597.8,792" fill="none" stroke="#fff" stroke-width="2.3" stroke-linecap="butt"/>
<path d="M652,637.4 C628,650 612,690 606,720 C602.5,745 601.6,765 601.6,792" fill="none" stroke="#111" stroke-width="4.8" stroke-linecap="butt"/>
<path d="M652,637.4 C628,650 612,690 606,720 C602.5,745 601.6,765 601.6,792" fill="none" stroke="#fff" stroke-width="2.3" stroke-linecap="butt"/>
<path d="M652,671 C638,680 616,690 610,712 C604.5,735 602.5,760 601.8,792" fill="none" stroke="#111" stroke-width="4.8" stroke-linecap="butt"/>
<path d="M652,671 C638,680 616,690 610,712 C604.5,735 602.5,760 601.8,792" fill="none" stroke="#fff" stroke-width="2.3" stroke-linecap="butt"/>
<path d="M652,704.8 C636,714 614,722 608,738 C604.5,752 602.5,768 602,792" fill="none" stroke="#111" stroke-width="4.8" stroke-linecap="butt"/>
<path d="M652,704.8 C636,714 614,722 608,738 C604.5,752 602.5,768 602,792" fill="none" stroke="#fff" stroke-width="2.3" stroke-linecap="butt"/>
<path d="M652,738.5 C640,746 618,748 607,756 C603,762 602.3,772 602.2,792" fill="none" stroke="#111" stroke-width="4.8" stroke-linecap="butt"/>
<path d="M652,738.5 C640,746 618,748 607,756 C603,762 602.3,772 602.2,792" fill="none" stroke="#fff" stroke-width="2.3" stroke-linecap="butt"/>
<path d="M597.4,785 L597.8,830" fill="none" stroke="#111" stroke-width="4.6" stroke-linecap="butt"/>
<path d="M597.4,785 L597.8,830" fill="none" stroke="#fff" stroke-width="2.0" stroke-linecap="butt"/>
<path d="M601.8,785 L601.6,830" fill="none" stroke="#111" stroke-width="4.6" stroke-linecap="butt"/>
<path d="M601.8,785 L601.6,830" fill="none" stroke="#fff" stroke-width="2.0" stroke-linecap="butt"/>
<path d="M599.7,822 L599.8,889" fill="none" stroke="#111" stroke-width="7.2" stroke-linecap="butt"/>
<path d="M599.7,822 L599.8,889" fill="none" stroke="#fff" stroke-width="4.2" stroke-linecap="butt"/>
<path class="t" d="M599.700,800 L599.700,826"/>
<path d="M599.8,886 C599.8,897 585,897 584.7,914" fill="none" stroke="#111" stroke-width="5" stroke-linecap="butt"/>
<path d="M599.8,886 C599.8,897 585,897 584.7,914" fill="none" stroke="#fff" stroke-width="1.8" stroke-linecap="butt"/>
<path d="M599.8,886 C599.8,897 615,897 614.9,914" fill="none" stroke="#111" stroke-width="5" stroke-linecap="butt"/>
<path d="M599.8,886 C599.8,897 615,897 614.9,914" fill="none" stroke="#fff" stroke-width="1.8" stroke-linecap="butt"/>
<path d="M599.9,893 L599.9,914" fill="none" stroke="#111" stroke-width="5" stroke-linecap="butt"/>
<path d="M599.9,893 L599.9,914" fill="none" stroke="#fff" stroke-width="1.8" stroke-linecap="butt"/>
<path class="w" style="stroke-width:1.5" d="M578.5,911.5 C577.8,906.5 581.5999999999999,907 581.8,910 C581.8,915 587.8,915 587.8,910 C588.0,907 591.8,906.5 591.0999999999999,911.5 L591.0999999999999,916 L588.5999999999999,919.8 L588.5999999999999,939.5 C588.5999999999999,943 581.0,943 581.0,939.5 L581.0,919.8 L578.5,916 Z"/>
<path class="t" d="M581.0,919.8 L588.5999999999999,919.8 M581.3,922 L588.3,922"/>
<path class="w" style="stroke-width:1.5" d="M593.6,911.5 C592.9,906.5 596.6999999999999,907 596.9,910 C596.9,915 602.9,915 602.9,910 C603.1,907 606.9,906.5 606.1999999999999,911.5 L606.1999999999999,916 L603.6999999999999,919.8 L603.6999999999999,939.5 C603.6999999999999,943 596.1,943 596.1,939.5 L596.1,919.8 L593.6,916 Z"/>
<path class="t" d="M596.1,919.8 L603.6999999999999,919.8 M596.4,922 L603.4,922"/>
<path class="w" style="stroke-width:1.5" d="M608.6,911.5 C607.9,906.5 611.6999999999999,907 611.9,910 C611.9,915 617.9,915 617.9,910 C618.1,907 621.9,906.5 621.1999999999999,911.5 L621.1999999999999,916 L618.6999999999999,919.8 L618.6999999999999,939.5 C618.6999999999999,943 611.1,943 611.1,939.5 L611.1,919.8 L608.6,916 Z"/>
<path class="t" d="M611.1,919.8 L618.6999999999999,919.8 M611.4,922 L618.4,922"/>
<g transform="translate(0,-67.4)">
<path class="w" style="stroke-width:1.5" d="M643.4,627.3 L655.2,620.6 L660.4,622.9 L673.7,612.5 L686.2,619.2 L686.2,626.5 L657.4,643.5 L644.2,637.6 Z"/>
<path class="s" d="M643.4,627.3 L657.4,633.2 L668.5,626.5 M657.4,633.2 L657.4,643.5 M660.4,622.9 L668.5,628.8 L686.2,619.2 M645.6,630.2 L655.2,634.7 L655.2,641.3 L646,636.9 Z"/>
<path class="t" d="M655.2,634.7 L657.4,633.2"/>
</g>
<g transform="translate(0,-33.7)">
<path class="w" style="stroke-width:1.5" d="M643.4,627.3 L655.2,620.6 L660.4,622.9 L673.7,612.5 L686.2,619.2 L686.2,626.5 L657.4,643.5 L644.2,637.6 Z"/>
<path class="s" d="M643.4,627.3 L657.4,633.2 L668.5,626.5 M657.4,633.2 L657.4,643.5 M660.4,622.9 L668.5,628.8 L686.2,619.2 M645.6,630.2 L655.2,634.7 L655.2,641.3 L646,636.9 Z"/>
<path class="t" d="M655.2,634.7 L657.4,633.2"/>
</g>
<g transform="translate(0,0.0)">
<path class="w" style="stroke-width:1.5" d="M643.4,627.3 L655.2,620.6 L660.4,622.9 L673.7,612.5 L686.2,619.2 L686.2,626.5 L657.4,643.5 L644.2,637.6 Z"/>
<path class="s" d="M643.4,627.3 L657.4,633.2 L668.5,626.5 M657.4,633.2 L657.4,643.5 M660.4,622.9 L668.5,628.8 L686.2,619.2 M645.6,630.2 L655.2,634.7 L655.2,641.3 L646,636.9 Z"/>
<path class="t" d="M655.2,634.7 L657.4,633.2"/>
</g>
<g transform="translate(0,33.7)">
<path class="w" style="stroke-width:1.5" d="M643.4,627.3 L655.2,620.6 L660.4,622.9 L673.7,612.5 L686.2,619.2 L686.2,626.5 L657.4,643.5 L644.2,637.6 Z"/>
<path class="s" d="M643.4,627.3 L657.4,633.2 L668.5,626.5 M657.4,633.2 L657.4,643.5 M660.4,622.9 L668.5,628.8 L686.2,619.2 M645.6,630.2 L655.2,634.7 L655.2,641.3 L646,636.9 Z"/>
<path class="t" d="M655.2,634.7 L657.4,633.2"/>
</g>
<g transform="translate(0,67.4)">
<path class="w" style="stroke-width:1.5" d="M643.4,627.3 L655.2,620.6 L660.4,622.9 L673.7,612.5 L686.2,619.2 L686.2,626.5 L657.4,643.5 L644.2,637.6 Z"/>
<path class="s" d="M643.4,627.3 L657.4,633.2 L668.5,626.5 M657.4,633.2 L657.4,643.5 M660.4,622.9 L668.5,628.8 L686.2,619.2 M645.6,630.2 L655.2,634.7 L655.2,641.3 L646,636.9 Z"/>
<path class="t" d="M655.2,634.7 L657.4,633.2"/>
</g>
<g transform="translate(0,101.1)">
<path class="w" style="stroke-width:1.5" d="M643.4,627.3 L655.2,620.6 L660.4,622.9 L673.7,612.5 L686.2,619.2 L686.2,626.5 L657.4,643.5 L644.2,637.6 Z"/>
<path class="s" d="M643.4,627.3 L657.4,633.2 L668.5,626.5 M657.4,633.2 L657.4,643.5 M660.4,622.9 L668.5,628.8 L686.2,619.2 M645.6,630.2 L655.2,634.7 L655.2,641.3 L646,636.9 Z"/>
<path class="t" d="M655.2,634.7 L657.4,633.2"/>
</g>
<path class="ld" d="M664.1,740.6 L688.7,776.9 L688.7,789.3"/><circle class="d" cx="664.1" cy="740.6" r="3.4"/>
<text class="l" x="674.1" y="815.2">16</text>
</g>
<!-- parts 18 19 20 -->
<g id="p18">
<path class="w" style="stroke-width:1.7" d="M780.8,698.7 L786.5,696.4 L793.4,701 L792.3,715.9 L780.8,712.4 Z"/>
<path class="t" d="M780.8,698.7 L788.8,702.9000000000001 L793.4,701 M788.8,702.9000000000001 L789.0,716.6"/>
<path style="fill:none;stroke:#444;stroke-width:1.3" d="M783.6,714 C779,730 781,750 785.4,766 C788.5,778 787.7,790 787.7,801"/>
<path style="fill:none;stroke:#444;stroke-width:1.3" d="M781.5,765 L789.5,768 M782.5,763 L790.5,766"/>
<path class="w" style="stroke-width:1.7" d="M780.1,801.9 L784.2,800.8 L792.3,805.4 L790.8,821.4 L780.1,816.8 Z"/>
<path class="t" d="M780.1,801.9 L788.1,806.1 L792.3,805.4 M788.1,806.1 L788.3000000000001,821.0"/>
<path class="ld" d="M748,641.3 L748,653.9 L779.7,695.7"/><circle class="d" cx="779.7" cy="695.7" r="3.4"/>
<text class="l" x="732.7" y="633.3">18</text>
<path class="w" style="stroke-width:1.7" d="M812.9,717 L816.4,714.7 L824.4,719.3 L823.3,735.4 L812.9,730.8 Z"/>
<path class="t" d="M812.9,717 L820.9,721.2 L824.4,719.3 M820.9,721.2 L821.1,735.0"/>
<path style="fill:none;stroke:#444;stroke-width:1.3" d="M815.5,733 C810,748 812.5,768 816.5,784 C819.5,796 818.7,808 818.7,819.5"/>
<path style="fill:none;stroke:#444;stroke-width:1.3" d="M814.5,783.5 L822.5,786.5 M815.5,781.5 L823.5,784.5"/>
<path class="w" style="stroke-width:1.7" d="M811.8,820.3 L815.2,819.1 L823.3,823.7 L822.1,838.6 L811.8,835.2 Z"/>
<path class="t" d="M811.8,820.3 L819.8,824.5 L823.3,823.7 M819.8,824.5 L820.0,839.4000000000001"/>
<path class="ld" d="M857,663.1 L857,675.7 L825.1,718.6"/><circle class="d" cx="825.1" cy="718.6" r="3.4"/>
<text class="l" x="841.0" y="657.5">19</text>
<path class="w" style="stroke-width:1.4" d="M843.9,740 L847.4,735.4 L855.4,738.8 L854.2,743.4 L848.5,750.3 L845.1,746.8 Z"/>
<circle class="t" cx="849.2" cy="740.6" r="2.2"/>
<path style="fill:none;stroke:#444;stroke-width:1.3" d="M847.4,750.3 C842,766 844.5,786 848.5,802 C851.5,814 850.8,826 850.8,837.5"/>
<path style="fill:none;stroke:#444;stroke-width:1.3" d="M846.5,801.5 L854.5,804.5 M847.5,799.5 L855.5,802.5"/>
<path class="w" style="stroke-width:1.7" d="M843.9,838.6 L847.4,836.8 L855.4,840.9 L854.2,857 L843.9,853.6 Z"/>
<path class="t" d="M843.9,838.6 L851.9,842.8000000000001 L855.4,840.9 M851.9,842.8000000000001 L852.1,857.8000000000001"/>
<path class="ld" d="M910.5,704.9 L896.7,704.9 L855.4,736.5"/><circle class="d" cx="855.4" cy="736.5" r="3.4"/>
<text class="l" x="913.1" y="714.9">20</text>
</g>

<defs>
<g id="cont">
<!-- silhouette -->
<path class="w" style="stroke-width:1.7" d="M96.4,18.7 L145.6,47.2 L148.5,48.2 L160.3,57.1 L161.3,86.6 L158.4,90.5 L151.5,86.6 L150.5,146.6 L155.4,140.7 L161.3,145.6 L161.3,171.2 L151.5,177.1 L147.5,191.8 L100.3,219.4 L92.5,222.3 L66.9,202.6 L38.4,191.8 L38.4,183.9 L16.7,173.1 L15.7,159.4 L17.2,99.5 L18.7,97.4 L37.4,87.5 L39.3,51.2 Z"/>
<!-- top terminals dark -->
<path d="M75.6,32.1 L96.9,19 L145.2,48.5 L123.1,60.8 Z" fill="#fff" stroke="#111" stroke-width="2.300" stroke-linejoin="round"/>
<path class="s" style="stroke-width:2.600" d="M87.9,38.7 L105.9,27.2 M101.8,46.1 L119,34.6 M114.9,52.6 L132.1,42"/>
<path class="s" style="stroke-width:1.200" d="M91.1,33.8 L96.1,23.9 M102.6,41.1 L107.5,28.9 M114.9,50.2 L120.7,35.4 M128,55.9 L133.8,43.6"/>
<path class="s" style="stroke-width:3" d="M75.6,32.500 L123.1,60.8 L145.200,48.500"/>
<path class="s" style="stroke-width:1.600" d="M148.500,50 L151,58 L154.500,55.500"/>
<!-- top face -->
<path class="s" d="M39.3,51.2 L92.5,80.7 L100.3,76.7 L122,61.5 M145.6,47.2 L100.3,76.7"/>
<path class="s" style="stroke-width:1.2" d="M39.3,56.5 L92.3,86"/>
<g class="s" style="stroke-width:1.400">
<path d="M64.500,41.800 L68.300,40.500 C70.500,41 71.800,43 71.500,45.300 L68,46.500 L64.500,44.300 Z"/>
<path d="M80,55 L84,53.400 C86,54 87.200,55.500 86.800,57.800 L83,59.200 L80,57.300 Z"/>
<path d="M100.700,63.200 L104.500,62 C106.800,62.500 108,64.500 107.700,66.800 L104.200,68 L100.700,66 Z"/>
</g>
<!-- terminal circles -->
<ellipse class="s" cx="44.9" cy="76.7" rx="3.3" ry="4" transform="rotate(-20 44.9 76.7)"/>
<ellipse class="s" cx="55.7" cy="83" rx="3.3" ry="4" transform="rotate(-20 55.7 83)"/>
<ellipse class="s" cx="70.4" cy="91.5" rx="3.3" ry="4" transform="rotate(-20 70.4 91.5)"/>
<ellipse class="s" cx="81.6" cy="97.4" rx="3.3" ry="4" transform="rotate(-20 81.6 97.4)"/>
<circle class="s" style="stroke-width:1.1" cx="63.3" cy="76.7" r="2.8"/>
<path class="t" d="M60.5,76.7 L66.1,76.7 M63.3,73.9 L63.3,79.5"/>
<!-- upper body front bottom + right edge -->
<path class="s" d="M37.4,87.5 L87.5,116 M92.5,80.7 L89.8,118 M100.3,76.7 L100.3,219.4 M92.5,119 L92.5,222.3"/>
<path class="t" d="M40,90.5 L45,93 L43,94 M78,112.5 L84,115.5 L82,117"/>
<!-- front module -->
<path class="s" d="M18.7,97.4 L69.8,127.9 L87.5,117.1 L88.5,192.8 M69.8,127.9 L67.9,198.7"/>
<path class="s" style="stroke-width:1.1" d="M17.7,104.3 L68.9,133.8"/>
<path class="s" d="M67.9,198.7 L86.6,191.8 L89.5,221.3 M38.4,183.9 L66.9,197.5"/>
<!-- vent -->
<path class="k" d="M16.7,161.3 L42.3,173.1 L42.3,182 L16.7,170.2 Z"/>
<path d="M17,164.5 L42,176.2 M17,167.5 L42,179.2" stroke="#bbb" stroke-width="0.9" fill="none"/>
<!-- small square symbol -->
<path class="s" d="M55.5,172.5 L61.5,171 L63,182 L55.1,180 Z"/>
<path class="s" style="stroke-width:2" d="M60.5,180.5 L63,182 L62,175"/>
<!-- bottom bits -->
<ellipse class="d" cx="63.9" cy="199.7" rx="2.6" ry="2.2"/>
<ellipse class="s" cx="81.6" cy="200.7" rx="2.4" ry="3.8" transform="rotate(-15 81.6 200.7)"/>
</g>
</defs>
<!-- part 04 (a) -->
<g id="p04a">
<use href="#cont" x="670" y="310"/>
<path class="ld" d="M797,485.8 L838.5,516.8 L852.3,516.8"/><circle class="d" cx="797" cy="485.8" r="3.4"/>
<text class="l" x="857.0" y="526.9">04</text>
</g>
<!-- part 04 (b) -->
<g id="p04b">
<use href="#cont" x="668.7" y="970"/>
<path class="ld" d="M856.4,991 L856.4,1002 L824.9,1045.6"/><circle class="d" cx="824.9" cy="1045.6" r="3.4"/>
<text class="l" x="840.5" y="985.3">04</text>
</g>

<!-- dashed axis lines -->
<g id="axes" class="ld">
<path d="M840.7,384.8 L870.3,367.7 M881.2,361.5 L890.5,356.8 M901.4,350.6 L967.7,313 M978.7,304.9 L986.9,300.7 M1000,292.5 L1063.9,256.4" style="stroke-dasharray:none"/>
<path d="M1126.2,220.3 L1096.7,236.7 M1085.2,243.3 L1078.7,247.2"/>
<path d="M841.5,1051.4 L869.2,1036.3 M878,1031.5 L884,1028.3 M893,1023 L939.4,993.8 M951.2,987.1 L959,983.2 M964.9,978.1 L1012.2,954.5 M1022,948.6 L1029.9,944.6 M1037.7,940.7 L1096.8,907.3 M1104.6,901.4 L1112.5,897.4 M1118.4,891.5 L1136.1,879.7"/>
<path d="M1079.1,988.7 L1014.1,1023.3 L1014.1,1064.5 M1014.1,1068.8 L1014.1,1220" style="stroke-width:1.2"/>
<path d="M976.7,1135.5 L1014.1,1113.9 M976.7,1180.5 L1014.1,1160 M988,1220 L1014.1,1205"/>
</g>
<!-- part 22 -->
<g id="p22">
<path class="w" style="stroke-width:1.700" d="M226.2,1094.1 C229,1091.500 238,1091 243.9,1094.6 C246.500,1096.500 247.8,1099.5 247.8,1104"/>
<path class="s" d="M231.300,1097.500 C234,1096 240,1096.500 243,1099.500 L243,1102.500"/>
<path class="w" style="stroke-width:1.900" d="M195.7,1092.6 L199.7,1089.2 L205.600,1085 L211.5,1086.2 L242.9,1102.4 L268.5,1111.3 L279.300,1109.300 L280.3,1105.9 C281.500,1104.500 284,1105.500 284.2,1107.4 L283.2,1113.3 L281.300,1114.200 L281.3,1156.5 L280.3,1158.5 L242.9,1179.1 L239,1177.2 L229.200,1163.400 L223.300,1156.500 L195.7,1125 Z"/>
<path class="w" style="stroke-width:1.900" d="M239,1134.500 C239,1133 239.500,1132.500 241,1131.700 L279.300,1109.300 L281.300,1114.200 L281.3,1156.5 L280.3,1158.5 L242.9,1179.1 L239,1176.2 Z"/>
<path class="s" style="stroke-width:1.200" d="M242.9,1135.9 L278.3,1115.7 M242.9,1135.9 L242.900,1179"/>
<path class="t" style="stroke-width:0.9" d="M197.7,1094.6 L239,1136.9"/>
<path class="s" style="stroke-width:2.200" d="M245.500,1145 L266.5,1134.9 M257.7,1154.6 L266.5,1150.1"/>
<path class="s" style="stroke-width:1.100" d="M254.7,1160.5 L280.3,1146.7 M246,1146.500 L262,1139"/>
<path class="w" style="stroke-width:1.600" d="M241,1148.7 L252.8,1145.7 L255.7,1148.7 L255.7,1159.5 L242.9,1162.4 L241,1158.5 Z"/>
<path class="s" style="stroke-width:1.200" d="M243.900,1152.600 L250.800,1151 L250.800,1157.500 L243.900,1159 Z M246,1157.500 C248,1157.500 249.500,1156 249.500,1153.500"/>
<path class="s" style="stroke-width:1.300" d="M199.700,1098.500 L213.400,1112.300 L213.400,1140.800 M199.700,1098.500 L199.700,1127 M201.100,1113.300 L204.600,1110.300 L212.900,1115.200 M202.100,1113.300 L202.100,1129 L212.400,1125 M202.100,1129 L213,1140"/>
<path class="t" d="M232.500,1139 L232.500,1152"/>
<path class="ld" d="M215.4,1166.4 L233.1,1156"/>
<path class="ld" d="M174.5,1028.7 L174.5,1042 L205.5,1083.3"/><circle class="d" cx="205.5" cy="1083.6" r="3.4"/>
<text class="l" x="158.9" y="1021.3">22</text>
</g>
<!-- part 01 -->
<g id="p01">
<path class="w" style="stroke-width:1.9" d="M104.6,1228 L104.6,1186 C104.6,1184.500 105,1183.500 106.500,1182.500 L147,1155.600 C148.500,1154.600 150,1154.400 151.500,1155.200 L166.6,1162.5 L209.8,1187.1 L235.4,1202.8 L230.500,1205.700 C228.500,1207.500 229,1210.500 231.500,1211.300 C234,1212 236.500,1212 238.500,1210.600 L243.3,1207.7 L268.9,1228 Z"/>
<path class="s" style="stroke-width:1.700" d="M106,1184.300 L173.500,1220 M105.500,1187.600 L166.500,1220"/>
<path class="w" style="stroke-width:1.9" d="M158.7,1172.3 L174.4,1158.5 L182.3,1154.6 L219.7,1176.2 L217.7,1181.2 L196.1,1193 L187.2,1189 L203,1179.2 L182.3,1167.4 L166.6,1176.2 Z"/>
<path class="s" d="M174.400,1158.500 L180,1163 L166.600,1176.200 M180,1163 L182.300,1167.400 M182.300,1167.400 L182.300,1170.500 L198.500,1180 M203,1179.200 L217.700,1181.200 M196.100,1193 L207,1181"/>
<path class="w" style="stroke-width:1.9" d="M104.6,1192 C97.7,1191.500 94.300,1196 94.800,1199.800 C95.300,1204 99,1206.500 104.6,1206.700"/>
<path class="ld" d="M338.8,1198.4 L325.6,1198.4 L296,1220"/>
<text class="l" x="343.2" y="1208.3">01</text>
</g>
<!-- part 02 -->
<g id="p02">
<path class="w" style="stroke-width:1.7" d="M456.8,1228 L456.8,1105.4 L643.5,1208.2 L643.5,1228 Z"/>
<path class="s" style="stroke-width:3" d="M457.500,1105.800 L643,1208.300"/>
<path class="w" d="M462.3,1128.5 L466.5,1124.4 L475.8,1128.5 L475.8,1135.2 L471,1137.5 L462.3,1133.5 Z"/>
<path class="s" d="M462.3,1128.5 L471,1132.5 L475.8,1128.5"/>
<path class="w" d="M457.7,1143.5 L461,1142 L466.9,1144.5 L466.9,1169 L463.5,1170.5 L457.7,1168 Z"/>
<path class="k" d="M457.700,1143 L466.500,1146 L466.500,1149 L457.700,1146 Z M457.700,1163.500 L466.500,1166.500 L466.500,1172 L457.700,1169.500 Z"/>
<path class="w" d="M465,1192 L468.5,1190.7 L475.8,1194 L475.8,1228 L465,1228 Z"/>
<path class="s" d="M471,1192 L471,1220"/>
<path class="t" d="M457,1174 C460,1180 466,1183 468,1189"/>
<!-- display -->
<path class="w" style="stroke-width:1.700" d="M487.800,1228 L487.800,1158.500 L501.300,1159.400 L541,1154 L596.900,1188.300 L618.500,1201.800 L620.300,1209 L620.300,1228 Z"/>
<path d="M517.5,1167.5 L541,1154 L596.9,1188.3 L577,1200 Z" fill="#2a2a2a" stroke="#111" stroke-width="1.200"/>
<path d="M521,1166.500 L580,1198.500 M525,1164.300 L584,1196.200 M529,1162 L588,1193.800 M533,1159.800 L591.500,1191.500 M537,1157.500 L594.500,1189.500" stroke="#aaa" stroke-width="0.800" stroke-dasharray="1.100 1.500" fill="none"/>
<path class="s" style="stroke-width:2.600" d="M489.500,1228 L489.500,1160 L598.700,1216.200"/>
<path class="s" style="stroke-width:1.800" d="M493.500,1228 L493.500,1165 L592,1216.500"/>
<path class="w" style="stroke-width:1.800" d="M487.2,1153.1 L507.6,1140.5 L518.4,1145.9 L515.7,1149.5 L501.3,1159.4 L487.8,1162.1 Z"/>
<path class="s" style="stroke-width:1.300" d="M487.200,1153.100 L501.300,1154.500 L518.400,1145.900 M501.300,1154.500 L501.300,1159.400 M504,1157 C506,1154.500 510,1154.500 512.500,1158 M515.700,1149.500 L536,1155"/>
<path class="w" style="stroke-width:1.800" d="M577,1200 L596.9,1188.8 L618.5,1201.8 L620.3,1209 L605.9,1218.900 L605.900,1228 L590,1228 L590,1207 Z"/>
<path class="s" style="stroke-width:1.300" d="M590,1207 L605.900,1212.500 L618.500,1201.800 M605.900,1212.500 L605.900,1220 M582,1203 C585,1201 589,1201.500 591,1204"/>
<path class="ld" d="M403.3,1083.3 L416.3,1083.3 L458.2,1114.4"/><circle class="d" cx="458.2" cy="1114.4" r="3.4"/>
<text class="l" x="365.5" y="1091.9">02</text>
</g>
<!-- part 08 plate -->
<g id="p08">
<path class="w" style="stroke-width:1.6" d="M828.700,1171.1 C840,1169 855,1165 866.200,1158.200 L929.5,1177.7 L942.6,1184.3 L944.3,1189.2 L931.1,1194.9 L914.8,1203.1 L891.800,1209.7 L872.1,1203.1 L857.4,1194.9 L829.5,1175.2 Z"/>
<path class="s" style="stroke-width:1.1" d="M830.500,1172.500 L858.5,1192 M874,1200.500 C885,1207 900,1205 914,1199.500 L930.500,1192"/>
<path class="w" d="M872.1,1179.3 L885.2,1172 L904.9,1183.4 L891.8,1190 Z"/>
<path class="w" d="M858.2,1192.5 L866.4,1187.9 L880.3,1195.7 L872.1,1201.5 Z"/>
</g>
<!-- part 07 -->
<g id="p07">
<path class="s" style="stroke-width:1.8" d="M827,1199 C835,1198 845,1196 852.5,1194.1"/>
<path class="s" style="stroke-width:2.2" d="M825.400,1203.1 L827,1220"/>
<path class="s" d="M829.500,1203.1 L842.6,1219.5 M828.500,1204 L830.500,1220"/>
<ellipse class="s" style="stroke-width:1.1" cx="843.9" cy="1206.1" rx="3" ry="1.700"/>
<path class="w" d="M851.6,1207.2 L860.7,1201.5 L872.1,1204.8 L862.3,1214.6 Z"/>
<circle class="w" style="stroke-width:1.8" cx="865.6" cy="1206.8" r="4.800"/>
<path class="s" d="M862,1204 L869,1210 M869,1204 L862.500,1210 M865.600,1202 L865.600,1211.500"/>
<path class="s" style="stroke-width:2" d="M862.300,1214.6 L872,1211 M872,1204.800 L872,1212"/>
<path class="s" style="stroke-width:1.700" d="M893.4,1211 L904.9,1209.3 L914.8,1212.6 L921.3,1219.2 M923,1202 L936,1201.1 L942.6,1205.2 L936,1211 L944,1214.500 M893.4,1211 L893.400,1220"/>
<path class="s" style="stroke-width:2.600" d="M944.3,1209.3 L950.8,1204.4 L962.3,1205.2 L968.9,1211 L968.9,1220"/>
<path class="s" style="stroke-width:2.400" d="M944,1220 C944,1212 950,1207.500 957,1208.500 C962,1210 964,1214 964,1220 M950,1220 C950.500,1215 954,1212.500 958,1213.500"/>
<path class="s" style="stroke-width:1.600" d="M899,1220 L900,1214.500 M905,1220 L905.500,1213 M912,1220 C912,1216 916,1215 919,1217"/>
<path class="ld" d="M822.100,1202.300 L789.2,1220"/><circle class="d" cx="822.100" cy="1202.300" r="3.4"/>
<text class="l" x="730.5" y="1235.7">07</text>
<path class="ld" d="M932.800,1189.500 L1053.5,1216.2 L1061.4,1216.2"/><circle class="d" cx="932.800" cy="1189.500" r="3.4"/>
<text class="l" x="1062" y="1226.2">08</text>
</g>

<!-- part 09 -->
<g id="p09">
<path class="s" style="stroke-width:1.700" d="M913,1178 C920,1181 931,1178 934,1170"/>
<path class="w" style="stroke-width:2.500" d="M848,1133.3 L869.8,1118.9 L879,1116.1 L879.6,1111.5 C882,1108.500 892,1107.500 897.4,1109.8 L899.1,1114.9 L898.5,1121.8 L912.3,1128.1 L939.8,1143 L945.6,1141.3 L954.8,1142.5 L966.2,1148.8 L967.4,1157.4 L959.3,1163.1 L953,1159.7 L950.2,1155.1 L937.5,1162 L935.2,1168.9 L928.4,1173.4 L908.9,1179.2 L904.3,1179.2 L902.5,1173.4 L895.1,1171.1 L880.2,1164.3 L867.5,1157.4 L864.7,1153.9 L848.6,1140.2 Z"/>
<path class="s" style="stroke-width:2.300" d="M879.600,1111.500 C880,1116 884,1121 890,1121.500 C895,1121.500 898,1119 898.500,1117 M879,1116.100 C880,1121 885,1125 891,1125 L898.500,1121.800"/>
<path class="s" style="stroke-width:2" d="M892,1113.500 C895,1113 897,1115 897,1117"/>
<path class="s" style="stroke-width:2.200" d="M848,1133.300 L866,1144 L866,1157 M852,1135.500 L852,1143 M856,1138 L856,1146.500 M866,1144 L880,1151 L880,1164 M880,1151 L895,1158.500 L895,1171 M895,1158.500 L903,1162 L903,1174 M903,1162 L909,1165 L909,1179 M909,1165 L937,1152.500 M909,1171 L936,1158.500"/>
<path class="s" style="stroke-width:2.200" d="M862,1124 L895,1145 M869.800,1118.900 L912,1145 M856,1128 L880,1145 M876,1122 L870,1140 M893,1131 L888,1146 M912,1145 L909,1160 M925,1148 L921,1163 M880,1128 L912.300,1128.100 M895,1145 L925,1148 L940,1143 M888,1146 L909,1160 M912,1145 L936,1158 M870,1140 L893,1131 M898,1136 L921,1150 M905,1133 L930,1146"/>
<path class="s" style="stroke-width:2" d="M858,1131 C862,1136 864,1141 863,1147 M884,1124 C882,1130 878,1134 872,1136 M900,1140 C899,1146 902,1152 908,1155 M916,1140 L928,1152 M872,1143 L886,1150 M920,1133 L935,1141"/>
<path class="s" style="stroke-width:2.800" d="M903,1130 L912,1136 L922,1138 M940,1147.500 L950,1150 M933,1151 L943,1156 M870,1147 L876,1150 M884,1155 L890,1158 M878,1130 L886,1134 M896,1150 L904,1154"/>
<path class="w" style="stroke-width:2.400" d="M953,1151.500 C955,1148 963,1147 966.200,1148.800 L967.400,1157.400 L959.300,1163.100 L953,1159.700 Z"/>
<path class="s" style="stroke-width:2.200" d="M953,1151.500 C955,1155 962,1154.500 966.200,1150 M944,1145.500 C946,1142.500 952,1142 955,1144.500 M945,1150 C948,1148 952,1148 954,1149"/>
<path class="s" style="stroke-width:1.800" d="M898,1166 L898,1171 M900.500,1167 L900.500,1172 M905.500,1169 L905.500,1175 M851,1137 L851,1142"/>
<path class="ld" d="M946.6,1081 L946.6,1091.5 L915.1,1133.4"/><circle class="d" cx="915.1" cy="1133.4" r="3.4"/>
<text class="l" x="930.5" y="1073.7">09</text>
</g>

<!-- red highlight -->
<rect x="623" y="272" width="303.05" height="323" rx="51" ry="51" fill="none" stroke="#d2334e" stroke-width="20"/>

</svg>
</body></html>
